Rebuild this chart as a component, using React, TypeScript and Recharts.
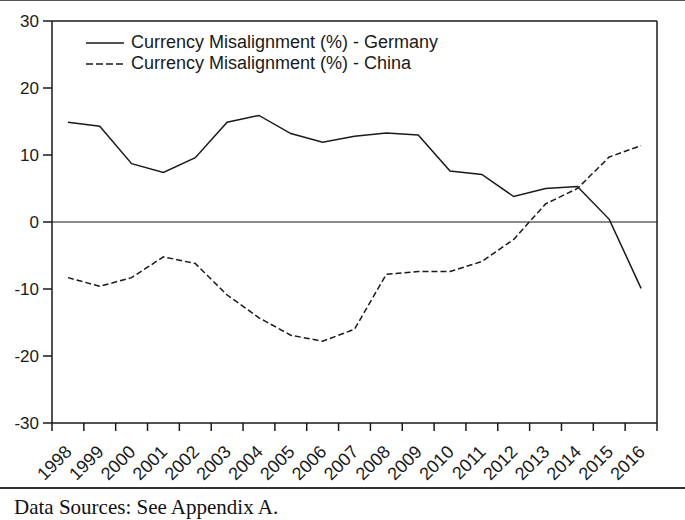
import { LineChart, Line, XAxis, YAxis, ReferenceLine, Legend } from 'recharts';

// ─── Data ───

const years = [
  1998, 1999, 2000, 2001, 2002, 2003, 2004, 2005, 2006, 2007,
  2008, 2009, 2010, 2011, 2012, 2013, 2014, 2015, 2016,
];

// Currency misalignment, % — Germany (solid)
const germany = [
  14.9, 14.3, 8.7, 7.4, 9.6, 14.9, 15.9, 13.2, 11.9, 12.8,
  13.3, 13.0, 7.6, 7.1, 3.8, 5.0, 5.3, 0.4, -9.9,
];

// Currency misalignment, % — China (dashed)
const china = [
  -8.3, -9.6, -8.3, -5.2, -6.2, -10.9, -14.3, -16.9, -17.8, -16.0,
  -7.8, -7.4, -7.4, -5.9, -2.6, 2.7, 5.0, 9.7, 11.4,
];

const yTicks = [-30, -20, -10, 0, 10, 20, 30];

const seriesNames = {
  germany: 'Currency Misalignment (%) - Germany',
  china: 'Currency Misalignment (%) - China',
};
const legendOrder = [seriesNames.germany, seriesNames.china];

const sourceNote = 'Data Sources: See Appendix A.';

// ─── Derived ───

const data = years.map((year, i) => ({ year, germany: germany[i], china: china[i] }));
const first = years[0];
const last = years[years.length - 1];
const xDomain: [number, number] = [first - 0.5, last + 0.5];
// tick marks sit between years, labels sit on the years
const bandEdges = [...years.map((y) => y - 0.5), last + 0.5];

const INK = '#1a1a1a';
const SANS = '"Liberation Sans", Arial, sans-serif';
const SERIF = '"Liberation Serif", "Times New Roman", serif';

function YearTick({ x, y, payload }: any) {
  const ax = x + 5;
  const ay = y + 13;
  return (
    <text
      x={ax}
      y={ay}
      transform={`rotate(-45, ${ax}, ${ay})`}
      textAnchor="end"
      fontSize={18}
      fontFamily={SANS}
      fill={INK}
    >
      {payload.value}
    </text>
  );
}

function LegendBox({ payload }: any) {
  const items = [...(payload ?? [])].sort(
    (a: any, b: any) => legendOrder.indexOf(a.value) - legendOrder.indexOf(b.value),
  );
  return (
    <div style={{ fontFamily: SANS, fontSize: 18, color: INK }}>
      {items.map((entry: any) => (
        <div key={entry.value} style={{ display: 'flex', alignItems: 'center', height: 21 }}>
          <svg width={38} height={4} style={{ marginRight: 7 }}>
            <line
              x1={0}
              x2={38}
              y1={2}
              y2={2}
              stroke={INK}
              strokeWidth={1.5}
              strokeDasharray={entry.payload?.strokeDasharray ? '7 3' : undefined}
            />
          </svg>
          <span style={{ whiteSpace: 'nowrap' }}>{entry.value}</span>
        </div>
      ))}
    </div>
  );
}

export default function App() {
  return (
    <div
      style={{
        position: 'absolute',
        left: 0,
        top: 0,
        width: 685,
        height: 520,
        background: '#fff',
        overflow: 'hidden',
      }}
    >
      <div style={{ position: 'absolute', left: 0, top: 0, width: 685, height: 1, background: '#555' }} />
      <LineChart width={685} height={485} data={data} margin={{ top: 21, right: 28, left: 0, bottom: 3 }}>
        <XAxis
          xAxisId={0}
          dataKey="year"
          type="number"
          domain={xDomain}
          ticks={bandEdges}
          interval={0}
          tickFormatter={() => ''}
          tickSize={8}
          height={9}
          axisLine={{ stroke: INK, strokeWidth: 1.5 }}
          tickLine={{ stroke: INK, strokeWidth: 1.5 }}
        />
        <XAxis
          xAxisId="lbl"
          dataKey="year"
          type="number"
          domain={xDomain}
          ticks={years}
          interval={0}
          axisLine={false}
          tickLine={false}
          height={50}
          tick={<YearTick />}
        />
        <YAxis
          type="number"
          domain={[-30, 30]}
          ticks={yTicks}
          interval={0}
          width={52}
          tickSize={9}
          tickMargin={4}
          axisLine={{ stroke: INK, strokeWidth: 1.5 }}
          tickLine={{ stroke: INK, strokeWidth: 1.5 }}
          tick={{ fill: INK, fontSize: 17, fontFamily: SANS }}
        />
        <ReferenceLine y={30} stroke={INK} strokeWidth={1.5} />
        <ReferenceLine x={last + 0.5} stroke={INK} strokeWidth={1.5} />
        <ReferenceLine y={0} stroke={INK} strokeWidth={1.2} />
        <Line
          type="linear"
          dataKey="germany"
          name={seriesNames.germany}
          stroke={INK}
          strokeWidth={1.5}
          dot={false}
          isAnimationActive={false}
        />
        <Line
          type="linear"
          dataKey="china"
          name={seriesNames.china}
          stroke={INK}
          strokeWidth={1.5}
          strokeDasharray="6 3"
          dot={false}
          isAnimationActive={false}
        />
        <Legend
          layout="vertical"
          verticalAlign="middle"
          align="center"
          content={<LegendBox />}
          wrapperStyle={{ left: 86, top: 32, width: 420, height: 42 }}
        />
      </LineChart>
      <div style={{ position: 'absolute', left: 0, top: 487, width: 685, height: 2, background: '#333' }} />
      <div
        style={{
          position: 'absolute',
          left: 14,
          top: 495,
          fontFamily: SERIF,
          fontSize: 21,
          lineHeight: '24px',
          color: '#111',
          whiteSpace: 'nowrap',
        }}
      >
        {sourceNote}
      </div>
    </div>
  );
}
